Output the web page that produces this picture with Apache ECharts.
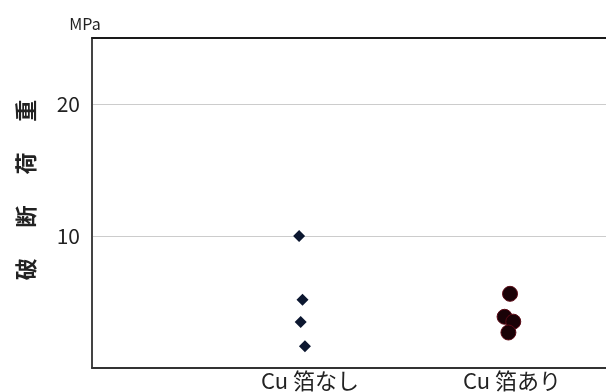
<!DOCTYPE html>
<html>
<head>
<meta charset="utf-8">
<script src="https://cdn.jsdelivr.net/npm/echarts@6/dist/echarts.min.js"></script>
<style>html,body{margin:0;padding:0;background:#fff}#c{width:606px;height:392px}</style>
</head>
<body>
<div id="c"></div>
<script>
// Categories (x positions 1 and 2)
const categories = ['Cu 箔なし', 'Cu 箔あり'];
// Breaking load values (MPa)
const noFoilValues = [10.0, 5.17, 3.49, 1.64];
const noFoilJitter = [-0.054, -0.037, -0.046, -0.025];
const withFoilValues = [5.62, 3.88, 3.51, 2.69];
const withFoilJitter = [-0.010, -0.037, 0.006, -0.018];
const yTicks = [0, 10, 20];
const yTitle = '破\u2003\u2009\u2009断\u2003\u2009\u2009荷\u2003\u2009\u2009重';
const yUnit = 'MPa';

const noFoilData = noFoilValues.map((v, i) => [1 + noFoilJitter[i], v]);
const withFoilData = withFoilValues.map((v, i) => [2 + withFoilJitter[i], v]);

const FONT = '"Noto Sans CJK JP", "Noto Sans", sans-serif';
const chart = echarts.init(document.getElementById('c'), null, {renderer: 'canvas'});
chart.setOption({
  animation: false,
  backgroundColor: '#ffffff',
  grid: {left: 92, right: 0, top: 38, bottom: 20, containLabel: false},
  xAxis: [{
    type: 'value', min: -0.079, max: 2.465,
    axisLine: {show: true, onZero: false, lineStyle: {color: '#333', width: 2}},
    axisTick: {show: false},
    splitLine: {show: false},
    axisLabel: {
      customValues: [1, 2],
      formatter: v => categories[Math.round(v) - 1] || '',
      fontSize: 22, color: '#222', fontFamily: FONT, margin: 2,
      showMinLabel: true, showMaxLabel: true
    }
  }, {
    type: 'value', position: 'top', min: -0.079, max: 2.465,
    axisLine: {show: true, onZero: false, lineStyle: {color: '#1a1a1a', width: 2}},
    axisTick: {show: false}, axisLabel: {show: false}, splitLine: {show: false}
  }],
  yAxis: {
    type: 'value', min: 0, max: 25, interval: 10,
    name: yUnit, nameLocation: 'end', nameGap: 6,
    nameTextStyle: {fontSize: 16, color: '#222', fontFamily: FONT, align: 'center', padding: [0, 14, 0, 0]},
    axisLine: {show: true, onZero: false, lineStyle: {color: '#444', width: 2}},
    axisTick: {show: false},
    axisLabel: {
      fontSize: 21, color: '#222', fontFamily: FONT, margin: 12,
      formatter: v => (yTicks.indexOf(v) > 0 ? String(v) : '')
    },
    splitLine: {show: true, lineStyle: {color: '#cccccc', width: 1}}
  },
  graphic: [{
    type: 'text', x: 26, y: 190, rotation: Math.PI / 2,
    style: {text: yTitle, fontSize: 22, fontWeight: 'bold', fill: '#222', fontFamily: FONT,
            align: 'center', verticalAlign: 'middle'}
  }],
  series: [{
    type: 'scatter', name: categories[0], data: noFoilData,
    symbol: 'diamond', symbolSize: [12, 12],
    itemStyle: {color: '#0c1730', opacity: 1}
  }, {
    type: 'scatter', name: categories[1], data: withFoilData,
    symbol: 'circle', symbolSize: 15,
    itemStyle: {color: '#1a0207', borderColor: '#5c0a16', borderWidth: 1, opacity: 1}
  }]
});
</script>
</body>
</html>
